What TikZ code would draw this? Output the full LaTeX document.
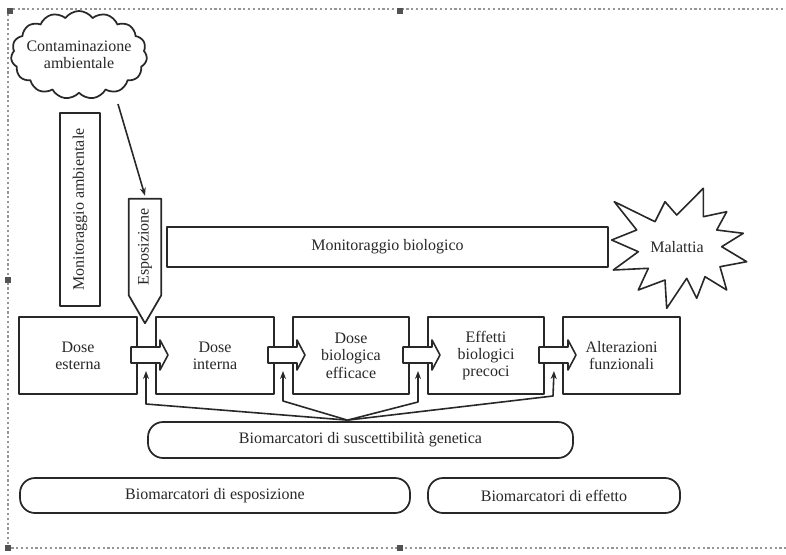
\documentclass[tikz,border=0pt]{standalone}
\usepackage{fontspec}
\setmainfont{Liberation Serif}
\usetikzlibrary{shapes.symbols,arrows.meta,calc}
\definecolor{ink}{RGB}{40,40,40}
\definecolor{framegray}{RGB}{150,150,150}
\begin{document}
\begin{tikzpicture}[x=0.75pt,y=-0.75pt,line join=round,
  txt/.style={font=\fontsize{12}{13}\selectfont, align=center, text=ink},
  box/.style={txt, draw=ink, line width=1.3pt, fill=white, inner sep=0pt},
  stadium/.style={box, rounded corners=15*0.75pt},
  link/.style={draw=ink, line width=1.2pt, -{Stealth[length=6pt,width=4.5pt]}},
  barrowstyle/.style={draw=ink, line width=1.2pt, fill=white},
  handle/.style={fill=ink!80, draw=none},
  barrow/.pic={
    \path[barrowstyle] (0,-8) -- (29,-8) -- (29,-15) -- (37,0) -- (29,15) -- (29,8) -- (0,8) -- cycle;
    \coordinate (-foot) at (15,16);
  }]
\useasboundingbox (0,0) rectangle (786,554);
% selection frame
\draw[framegray, dotted, line width=1.6pt] (8,9) -- (786,9);
\draw[framegray, dotted, line width=1.6pt] (8,9) -- (8,548) -- (786,548);
\foreach \hx/\hy in {10/11, 400/11, 8/280, 8/548, 400/548}
  \fill[handle] (\hx-3,\hy-3) rectangle (\hx+3,\hy+3);

% cloud
\node[cloud, cloud puffs=15, cloud puff arc=110, cloud ignores aspect, draw=ink, line width=1.3pt,
      fill=white, inner sep=0pt, minimum width=136*0.75pt, minimum height=88*0.75pt] (cloud) at (79,55) {};
\node[txt] (cloudtxt) at (cloud.center) {Contaminazione\\ambientale};

% vertical boxes
\node[box, minimum width=40*0.75pt, minimum height=193*0.75pt] (mamb) at (80,209.5)
      {\rotatebox{90}{Monitoraggio ambientale}};
\node[txt, inner sep=0pt, minimum width=32*0.75pt, minimum height=96*0.75pt] (esp) at (145,247)
      {\rotatebox{90}{Esposizione}};
\draw[ink, line width=1.3pt, fill=white] (esp.north west) -- (esp.north east) -- (esp.south east)
      -- ($(esp.south)+(0,28)$) -- (esp.south west) -- cycle;
\node[txt] at (esp) {\rotatebox{90}{Esposizione}};

\coordinate (cloudout) at (118,104);
\draw[link] (cloudout) -- ($(esp.north)+(0,-3)$);

% monitoraggio biologico
\node[box, minimum width=441*0.75pt, minimum height=40*0.75pt] (mbio) at (387.5,247)
      {Monitoraggio biologico};

% malattia starburst
\coordinate (malc) at (677,247);
\draw[ink, line width=1.2pt, fill=white]
  (614.3,201.7) -- (655,221.7) -- (665,201.7) -- (676.7,215) -- (703.3,188.3) -- (703.3,216.7)
  -- (726.7,211.7) -- (716.7,230) -- (743.3,233.3) -- (721.7,246.7) -- (746.7,261.7)
  -- (720,266.7) -- (726.7,290) -- (705,276.7) -- (696.7,298.3) -- (686.7,278.3)
  -- (666.7,308.3) -- (665,280) -- (638.3,290) -- (648.3,268.3) -- (613.3,270)
  -- (638.3,251.7) -- (611.7,240) -- (636.7,230) -- cycle;
\node[txt] (mal) at (malc) {Malattia};

% dose boxes
\node[box, minimum width=118*0.75pt, minimum height=77*0.75pt] (de)  at (78,355.5)  {Dose\\esterna};
\node[box, minimum width=118*0.75pt, minimum height=77*0.75pt] (di)  at (215,355.5) {Dose\\interna};
\node[box, minimum width=116*0.75pt, minimum height=77*0.75pt] (dbe) at (351,355.5) {Dose\\biologica\\efficace};
\node[box, minimum width=116*0.75pt, minimum height=77*0.75pt] (ebp) at (486,355.5) {Effetti\\biologici\\precoci};
\node[box, minimum width=117*0.75pt, minimum height=77*0.75pt] (af)  at (621.5,355.5) {Alterazioni\\funzionali};

% block arrows
\pic (a1) at (131,355) {barrow};
\pic (a2) at (268,355) {barrow};
\pic (a3) at (403,355) {barrow};
\pic (a4) at (539,355) {barrow};

% genetic susceptibility
\node[stadium, minimum width=425*0.75pt, minimum height=36*0.75pt] (gen) at (360.5,440)
      {Biomarcatori di suscettibilità genetica};
\coordinate (hub) at ($(gen.north)+(-13,-1)$);
\draw[link] (hub) -- (146,404) -- (a1-foot);
\draw[link] (hub) -- (283,401) -- (a2-foot);
\draw[link] (hub) -- (418,402) -- (a3-foot);
\draw[link] (hub) -- (553,396) -- (a4-foot);

% bottom stadiums
\node[stadium, minimum width=390*0.75pt, minimum height=35*0.75pt] (bexp) at (215,495.5)
      {Biomarcatori di esposizione};
\node[stadium, minimum width=252*0.75pt, minimum height=35*0.75pt] (beff) at (554,495.5)
      {Biomarcatori di effetto};
\end{tikzpicture}
\end{document}
